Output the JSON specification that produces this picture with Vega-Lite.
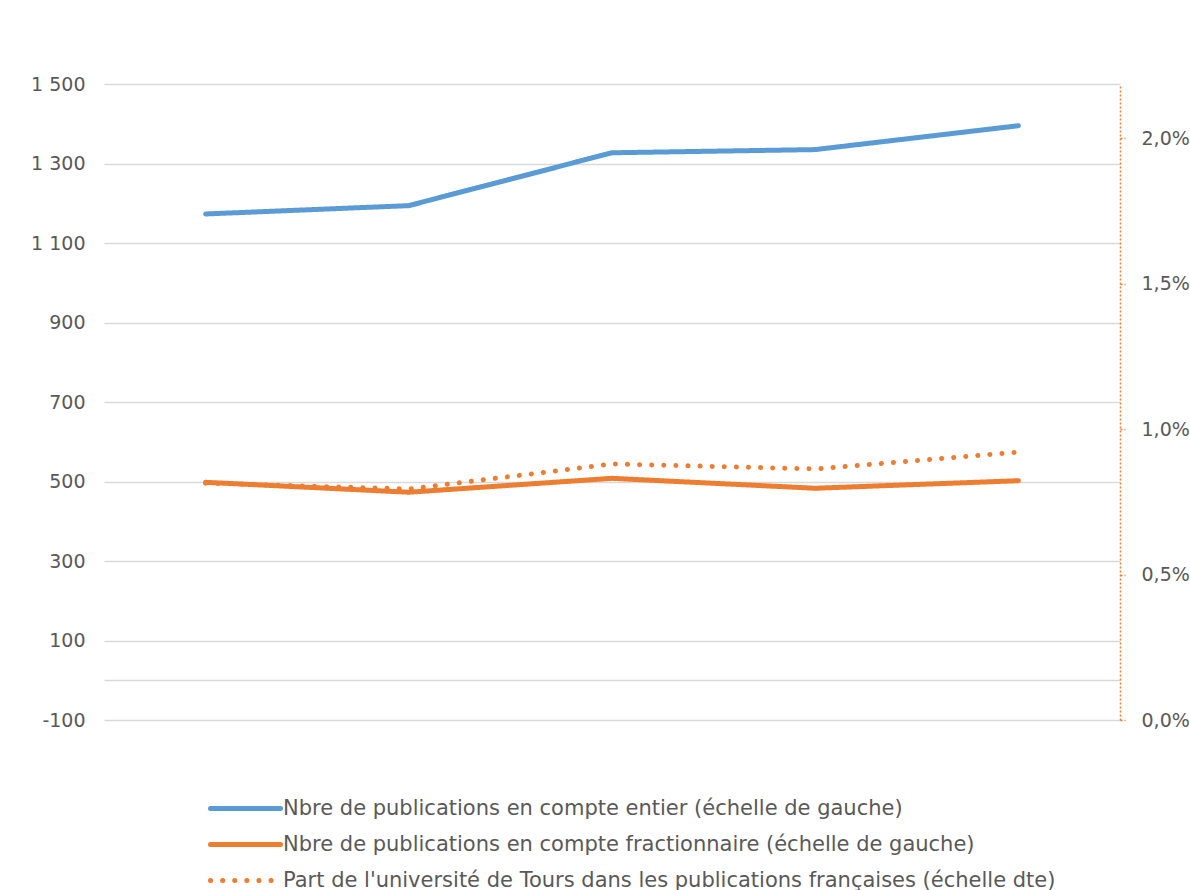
{
  "$schema": "https://vega.github.io/schema/vega-lite/v6.json",
  "autosize": {"type": "none"},
  "width": 1016,
  "height": 636,
  "padding": {"left": 104, "top": 84, "right": 70, "bottom": 170},
  "background": "white",
  "config": {
    "locale": {"number": {"decimal": ",", "thousands": "\u00a0", "grouping": [3], "currency": ["", " €"], "minus": "-"}},
    "view": {"stroke": null},
    "font": "DejaVu Sans",
    "axis": {"labelFont": "DejaVu Sans", "labelColor": "#595959", "labelFontSize": 19, "title": null}
  },
  "data": {
    "values": [
      {"annee": "2014", "serie": "Nbre de publications en compte entier (échelle de gauche)", "valeur": 1173},
      {"annee": "2015", "serie": "Nbre de publications en compte entier (échelle de gauche)", "valeur": 1194},
      {"annee": "2016", "serie": "Nbre de publications en compte entier (échelle de gauche)", "valeur": 1327},
      {"annee": "2017", "serie": "Nbre de publications en compte entier (échelle de gauche)", "valeur": 1335},
      {"annee": "2018", "serie": "Nbre de publications en compte entier (échelle de gauche)", "valeur": 1395},
      {"annee": "2014", "serie": "Nbre de publications en compte fractionnaire (échelle de gauche)", "valeur": 498},
      {"annee": "2015", "serie": "Nbre de publications en compte fractionnaire (échelle de gauche)", "valeur": 473},
      {"annee": "2016", "serie": "Nbre de publications en compte fractionnaire (échelle de gauche)", "valeur": 508},
      {"annee": "2017", "serie": "Nbre de publications en compte fractionnaire (échelle de gauche)", "valeur": 483},
      {"annee": "2018", "serie": "Nbre de publications en compte fractionnaire (échelle de gauche)", "valeur": 502},
      {"annee": "2014", "serie": "Part de l'université de Tours dans les publications françaises (échelle dte)", "valeur": 0.00814},
      {"annee": "2015", "serie": "Part de l'université de Tours dans les publications françaises (échelle dte)", "valeur": 0.00794},
      {"annee": "2016", "serie": "Part de l'université de Tours dans les publications françaises (échelle dte)", "valeur": 0.0088},
      {"annee": "2017", "serie": "Part de l'université de Tours dans les publications françaises (échelle dte)", "valeur": 0.00863},
      {"annee": "2018", "serie": "Part de l'université de Tours dans les publications françaises (échelle dte)", "valeur": 0.00921}
    ]
  },
  "encoding": {
    "x": {"field": "annee", "type": "ordinal", "scale": {"type": "point", "padding": 0.5}, "axis": null},
    "color": {
      "field": "serie", "type": "nominal",
      "scale": {
        "domain": ["Nbre de publications en compte entier (échelle de gauche)", "Nbre de publications en compte fractionnaire (échelle de gauche)", "Part de l'université de Tours dans les publications françaises (échelle dte)"],
        "range": ["#5B9BD5", "#ED7D31", "#ED7D31"]
      },
      "legend": {
        "title": null, "orient": "none", "legendX": 129, "legendY": 712, "direction": "vertical",
        "symbolType": "M-3.5,0H3.5", "symbolSize": 400, "symbolStrokeWidth": 5,
        "labelFontSize": 21, "labelColor": "#595959", "labelFont": "DejaVu Sans", "labelLimit": 1000,
        "rowPadding": 13, "labelOffset": 25,
        "encode": {"symbols": {"update": {"strokeCap": {"value": "round"}}}}
      }
    },
    "strokeDash": {
      "field": "serie", "type": "nominal",
      "scale": {
        "domain": ["Nbre de publications en compte entier (échelle de gauche)", "Nbre de publications en compte fractionnaire (échelle de gauche)", "Part de l'université de Tours dans les publications françaises (échelle dte)"],
        "range": [[1, 0], [1, 0], [0.1, 12]]
      },
      "legend": {
        "title": null, "orient": "none", "legendX": 129, "legendY": 712, "direction": "vertical",
        "symbolType": "M-3.5,0H3.5", "symbolSize": 400, "symbolStrokeWidth": 5,
        "labelFontSize": 21, "labelColor": "#595959", "labelFont": "DejaVu Sans", "labelLimit": 1000,
        "rowPadding": 13, "labelOffset": 25,
        "encode": {"symbols": {"update": {"strokeCap": {"value": "round"}}}}
      }
    }
  },
  "layer": [
    {
      "transform": [{"filter": "indexof(datum.serie, 'Nbre') == 0"}],
      "mark": {"type": "line", "strokeWidth": 5, "strokeCap": "round", "strokeJoin": "round"},
      "encoding": {
        "y": {
          "field": "valeur", "type": "quantitative",
          "scale": {"domain": [-100, 1500], "nice": false, "zero": false},
          "axis": {
            "orient": "left", "values": [-100, 0, 100, 300, 500, 700, 900, 1100, 1300, 1500],
            "format": ",d", "labelExpr": "datum.value == 0 ? '' : datum.label",
            "domain": false, "ticks": false, "labelPadding": 19,
            "grid": true, "gridColor": "#D9D9D9", "gridWidth": 1.5
          }
        }
      }
    },
    {
      "transform": [{"filter": "indexof(datum.serie, 'Part') == 0"}],
      "mark": {"type": "line", "strokeWidth": 5, "strokeCap": "round", "strokeJoin": "round"},
      "encoding": {
        "y": {
          "field": "valeur", "type": "quantitative",
          "scale": {"domain": [0, 0.02186], "nice": false},
          "axis": {
            "orient": "right", "values": [0, 0.005, 0.01, 0.015, 0.02], "format": ".1%",
            "grid": false, "domain": true, "domainColor": "#ED7D31", "domainDash": [2, 2], "domainWidth": 1.5,
            "ticks": true, "tickColor": "#ED7D31", "tickDash": [2, 2], "tickSize": 5, "tickWidth": 1.5,
            "labelPadding": 16
          }
        }
      }
    }
  ],
  "resolve": {"scale": {"y": "independent"}}
}
